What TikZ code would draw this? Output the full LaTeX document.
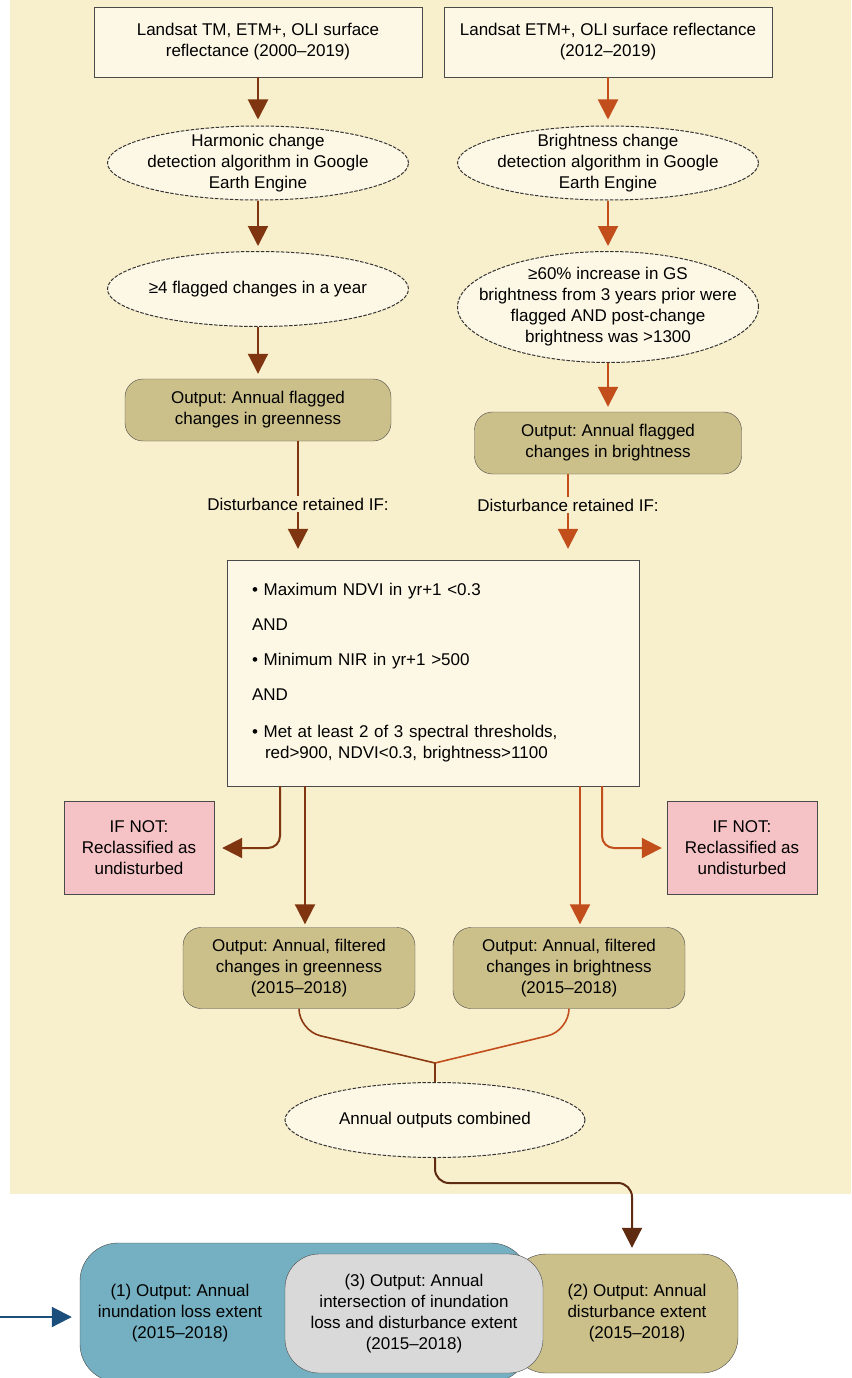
\documentclass[tikz,border=0pt]{standalone}
\usepackage{fontspec}
\setmainfont{Liberation Sans}
\frenchspacing
\usetikzlibrary{arrows.meta,positioning,shapes.geometric}
\definecolor{Beige}{HTML}{F8EFCC}
\definecolor{Cream}{HTML}{FDF8E6}
\definecolor{Tan}{HTML}{CBBF8A}
\definecolor{Pink}{HTML}{F5C3C6}
\definecolor{Lagoon}{HTML}{74B0C1}
\definecolor{Ash}{HTML}{D9D9D9}
\definecolor{Edge}{HTML}{4A4A4A}
\definecolor{DarkRust}{HTML}{7E3510}
\definecolor{Rust}{HTML}{C24E1C}
\definecolor{Cocoa}{HTML}{5E2A10}
\definecolor{Navy}{HTML}{1C4E7C}

\begin{document}
\begin{tikzpicture}[
  x=1pt,y=-1pt,>={Triangle[width=20pt,length=20pt]},
  txt/.style={font=\fontsize{17}{21}\selectfont,align=center},
  srcbox/.style={txt,draw=Edge,fill=Cream,minimum width=328pt,minimum height=70pt},
  oval/.style={ellipse,draw=Edge!70!black,line width=1pt,dash pattern=on 3.5pt off 1.5pt,fill=Cream,minimum width=301pt,minimum height=74pt,inner sep=0pt},
  outbox/.style={txt,draw=Edge,fill=Tan,rounded corners=18pt,minimum height=62pt},
  notbox/.style={txt,draw=Edge,fill=Pink,minimum width=150pt,minimum height=93pt},
  larr/.style={->,DarkRust,line width=2pt,shorten >=5pt},
  rarr/.style={->,Rust,line width=2pt,shorten >=5pt}
]
  \useasboundingbox (0,0) rectangle (851,1378);
  \fill[Beige] (10,0) rectangle (851,1194);

  % two input streams
  \node[srcbox] (tm) at (258,42) {Landsat TM, ETM+, OLI surface\\reflectance (2000--2019)};
  \node[srcbox] (etm) at (608,42) {Landsat ETM+, OLI surface reflectance\\(2012--2019)};
  \node[oval,label={[txt]center:{Harmonic change\\detection algorithm in Google\\Earth Engine}}] (hcd) at (258,163) {};
  \node[oval,label={[txt]center:{Brightness change\\detection algorithm in Google\\Earth Engine}}] (bcd) at (608,163) {};
  \node[oval,minimum height=75pt,label={[txt]center:{≥4 flagged changes in a year}}] (four) at (258,289) {};
  \node[oval,minimum height=111pt,label={[txt]center:{≥60\% increase in GS\\brightness from 3 years prior were\\flagged AND post-change\\brightness was >1300}}] (sixty) at (608,307) {};
  \node[outbox,minimum width=266pt] (flaggreen) at (258,410) {Output: Annual flagged\\changes in greenness};
  \node[outbox,minimum width=267pt] (flagbright) at (608,443) {Output: Annual flagged\\changes in brightness};

  \draw[larr,shorten >=6pt] (tm) -- (hcd);
  \draw[larr] (hcd) -- (four);
  \draw[larr] (four) -- (flaggreen);
  \draw[rarr,shorten >=6pt] (etm) -- (bcd);
  \draw[rarr] (bcd) -- (sixty);
  \draw[rarr] (sixty) -- (flagbright);

  % filter
  \node[txt,inner sep=2pt] (retg) at (298,504) {Disturbance retained IF:};
  \node[txt,inner sep=2pt] (retb) at (568,505) {Disturbance retained IF:};
  \node[draw=Edge,fill=Cream,font=\fontsize{17}{21}\selectfont,align=left,text width=362pt,inner xsep=25pt,minimum height=226pt] (rules) at (433,673)
    {\textbullet\ Maximum NDVI in yr+1 <0.3\\[14pt]
     AND\\[14pt]
     \textbullet\ Minimum NIR in yr+1 >500\\[14pt]
     AND\\[16pt]
     \textbullet\ Met at least 2 of 3 spectral thresholds,\\
     \hspace*{13pt}red>900, NDVI<0.3, brightness>1100};
  \draw[DarkRust,line width=2pt] (flaggreen.south -| retg) -- (retg);
  \draw[larr,shorten >=11pt] (retg) -- (retg |- rules.north);
  \draw[Rust,line width=2pt] (flagbright.south -| retb) -- (retb);
  \draw[rarr,shorten >=11pt] (retb) -- (retb |- rules.north);

  \node[notbox] (notleft) at (139,848) {IF NOT:\\Reclassified as\\undisturbed};
  \node[notbox] (notright) at (742,848) {IF NOT:\\Reclassified as\\undisturbed};
  \node[outbox,minimum width=232pt,minimum height=81pt] (filtgreen) at (299,968) {Output: Annual, filtered\\changes in greenness\\(2015--2018)};
  \node[outbox,minimum width=232pt,minimum height=81pt] (filtbright) at (569,968) {Output: Annual, filtered\\changes in brightness\\(2015--2018)};

  \coordinate (gdrop) at ([xshift=-128pt]rules.south);
  \coordinate (bdrop) at ([xshift=147pt]rules.south);
  \draw[larr,rounded corners=12pt,shorten >=8pt] ([xshift=-153pt]rules.south) |- (notleft.east);
  \draw[larr,shorten >=3pt] (gdrop) -- (gdrop |- filtgreen.north);
  \draw[rarr,rounded corners=12pt] ([xshift=169pt]rules.south) |- (notright.west);
  \draw[rarr,shorten >=3pt] (bdrop) -- (bdrop |- filtbright.north);

  % combine
  \coordinate (join) at (435,1063);
  \node[oval,minimum height=75pt,minimum width=300pt,label={[txt]center:{Annual outputs combined}}] (comb) at (435,1120) {};
  \draw[DarkRust!80!Rust,line width=1.6pt,rounded corners=22pt] (filtgreen.south) -- ++(0,22) -- (join);
  \draw[Rust,line width=1.6pt,rounded corners=22pt] (filtbright.south) -- ++(0,22) -- (join);
  \draw[DarkRust,line width=1.4pt] (join) -- (comb.north);

  % final outputs
  \node[draw=Edge,fill=Tan,rounded corners=36pt,minimum width=228pt,minimum height=119pt] (dist) at (624,1313.5) {};
  \node[draw=Edge,fill=Lagoon,rounded corners=38pt,minimum width=449pt,minimum height=139pt] (inund) at (304.5,1312.5) {};
  \node[txt,draw=Edge,fill=Ash,rounded corners=34pt,minimum width=258pt,minimum height=119pt] (inter) at (414,1313.5) {(3) Output: Annual\\intersection of inundation\\loss and disturbance extent\\(2015--2018)};
  \node[txt] (losstxt) at (180,1313) {(1) Output: Annual\\inundation loss extent\\(2015--2018)};
  \node[txt] (disttxt) at (637,1313) {(2) Output: Annual\\disturbance extent\\(2015--2018)};

  \coordinate (turn) at (632,1183);
  \draw[->,Cocoa,line width=2pt,rounded corners=14pt,shorten >=6pt] (comb.south) |- (turn) -- (turn |- dist.north);
  \coordinate (feed) at (0,1317);
  \draw[->,Navy,line width=2pt,shorten >=8pt] (feed) -- (inund.west |- feed);
\end{tikzpicture}
\end{document}
